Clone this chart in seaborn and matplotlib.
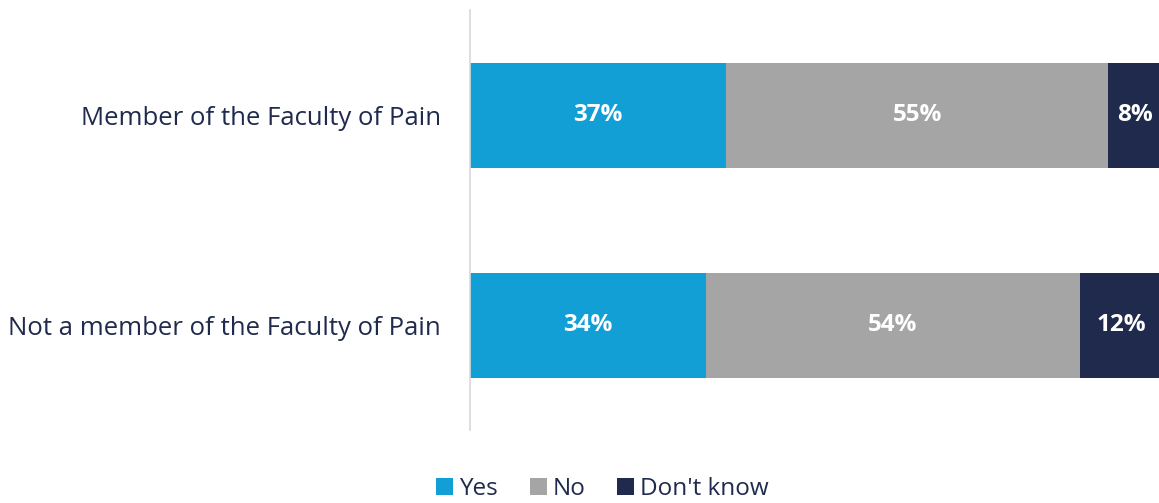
import matplotlib
matplotlib.use("Agg")
import matplotlib.pyplot as plt
import seaborn as sns
import pandas as pd
import numpy as np
from matplotlib.patches import Patch

categories = ["Member of the Faculty of Pain", "Not a member of the Faculty of Pain"]
yes = [37, 34]
no = [55, 54]
dont_know = [8, 12]
series_names = ["Yes", "No", "Don't know"]
colors = ["#129FD6", "#A5A5A5", "#1F2A4D"]
text_color = "#1F2A4D"

sns.set_theme(style="white")
plt.rcParams['font.family'] = ['Open Sans', 'DejaVu Sans']

fig = plt.figure(figsize=(11.59, 5.03), dpi=100)
ax = fig.add_axes([0.4055, 0.145, 0.5945, 0.835])

df = pd.DataFrame({"cat": categories, "Yes": yes, "No": no, "Don't know": dont_know})
df["c1"] = df["Yes"]
df["c2"] = df["Yes"] + df["No"]
df["c3"] = df["Yes"] + df["No"] + df["Don't know"]

for col, color in zip(["c3", "c2", "c1"], colors[::-1]):
    sns.barplot(data=df, y="cat", x=col, orient="h", color=color, width=0.5,
                saturation=1, ax=ax, edgecolor="none")

vals = [yes, no, dont_know]
for i in range(len(categories)):
    left = 0
    for s in range(3):
        v = vals[s][i]
        ax.text(left + v / 2, i, f"{v}%", ha="center", va="center",
                color="white", fontsize=17.5, fontweight="bold")
        left += v

ax.set_xlim(0, 99.4)
ax.set_ylim(1.5, -0.5)
ax.set_xlabel("")
ax.set_ylabel("")
ax.set_xticks([])
ax.tick_params(axis="y", length=0, pad=21, labelsize=18.5, labelcolor=text_color)
for sp in ["top", "right", "bottom"]:
    ax.spines[sp].set_visible(False)
ax.spines["left"].set_color("#D9D9D9")
ax.spines["left"].set_linewidth(1.2)

handles = [Patch(facecolor=c, edgecolor="none") for c in colors]
leg = fig.legend(handles, series_names, loc="center", bbox_to_anchor=(0.52, 0.027),
                 ncol=3, frameon=False, fontsize=17.5, handlelength=0.7, handleheight=0.7,
                 handletextpad=0.25, columnspacing=1.3)
for t in leg.get_texts():
    t.set_color(text_color)

fig.savefig("out.png", dpi=100)
